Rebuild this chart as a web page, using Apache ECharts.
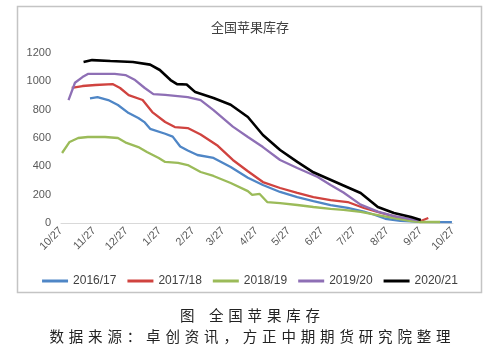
<!DOCTYPE html>
<html>
<head>
<meta charset="utf-8">
<script src="https://cdn.jsdelivr.net/npm/echarts@6/dist/echarts.min.js"></script>
<style>
html,body{margin:0;padding:0;background:#fff;}
#chart{width:500px;height:349px;}
</style>
</head>
<body>
<div id="chart"></div>
<script>
// ---- data (season dates as MM/DD, season runs 10/27 -> 10/27) ----
const seriesNames = ['2016/17', '2017/18', '2018/19', '2019/20', '2020/21'];
const tickLabels = ['10/27','11/27','12/27','1/27','2/27','3/27','4/27','5/27','6/27','7/27','8/27','9/27','10/27'];

const dates16 = ['11/23','11/30','12/10','12/19','12/29','01/07','01/13','01/18','02/01','02/08','02/15','02/22','03/03','03/18','04/03','04/19','05/03','05/19','06/04','06/19','07/05','07/21','08/05','08/14','08/25','09/08','09/27','10/26'];
const vals16 = [880,889,868,833,776,741,710,665,630,610,540,512,480,459,395,320,268,219,183,155,127,106,80,60,30,15,8,6];

const dates17 = ['11/06','11/16','11/28','12/14','12/21','12/29','01/11','01/20','02/01','02/10','02/22','03/06','03/22','04/05','04/19','05/03','05/19','06/04','06/19','07/05','07/21','08/05','08/21','09/05','09/20','09/27','10/04'];
const vals17 = [953,967,974,981,953,903,868,783,713,677,670,625,545,445,365,289,247,212,183,162,148,106,71,42,21,14,35];

const dates18 = ['10/28','11/04','11/12','11/21','12/07','12/19','12/27','01/07','01/15','01/26','02/01','02/13','02/22','03/06','03/18','04/03','04/19','04/23','04/30','05/07','05/19','06/04','06/19','07/05','07/17','08/02','08/18','09/02','09/18','09/27','10/15'];
const vals18 = [494,572,600,607,607,600,565,536,501,459,431,424,409,360,332,282,225,198,205,148,141,127,113,99,92,78,56,35,14,7,7];

const dates19 = ['11/03','11/09','11/16','11/21','12/16','12/26','01/04','01/13','01/21','02/01','02/22','03/06','03/18','04/05','04/19','05/03','05/19','06/04','06/23','07/05','07/17','08/02','08/18','09/02','09/18','09/25'];
const vals19 = [868,990,1030,1052,1052,1044,1009,953,910,905,889,868,797,680,607,536,445,388,325,268,215,130,80,48,28,18];

const dates20 = ['11/17','11/25','12/12','01/02','01/18','01/27','02/06','02/12','02/21','03/01','03/18','04/03','04/19','05/03','05/19','06/04','06/19','07/17','08/02','08/18','09/02','09/18','09/27'];
const vals20 = [1136,1150,1143,1136,1118,1080,1009,980,978,924,882,835,748,621,515,431,358,265,212,113,71,42,21];

const colors = ['#4F86C6', '#D0433F', '#9BBB59', '#8E6FB5', '#000000'];

// ---- helpers ----
function toDay(str, forceNext) {
  const [m, d] = str.split('/').map(Number);
  const first = (m > 10 || (m === 10 && d >= 27)) && !forceNext;
  const year = first ? 2000 : 2001;
  return Math.round((Date.UTC(year, m - 1, d) - Date.UTC(2000, 9, 27)) / 86400000);
}
function pairs(dates, vals) {
  return dates.map((s, i) => [toDay(s), vals[i]]);
}
const tickDays = tickLabels.map((s, i) => toDay(s, i === tickLabels.length - 1));
const labelOf = {};
tickDays.forEach((d, i) => { labelOf[d] = tickLabels[i]; });

const allDates = [dates16, dates17, dates18, dates19, dates20];
const allVals = [vals16, vals17, vals18, vals19, vals20];

const chart = echarts.init(document.getElementById('chart'), null, { renderer: 'canvas' });
const latin = '"Liberation Sans", "DejaVu Sans", sans-serif';
const cjk = '"Noto Sans CJK SC", sans-serif';

function spaced(s) { return s.split('').join('\u2004'); }

chart.setOption({
  animation: false,
  color: colors,
  title: {
    text: '全国苹果库存',
    left: 'center',
    top: 16,
    textStyle: { fontFamily: cjk, fontSize: 13, fontWeight: 'normal', color: '#404040' }
  },
  legend: {
    data: seriesNames,
    left: 'center',
    top: 270,
    icon: 'rect',
    itemWidth: 26,
    itemHeight: 3,
    itemGap: 11,
    textStyle: { fontFamily: latin, fontSize: 12, color: '#404040' }
  },
  grid: { left: 61, right: 47, top: 53, bottom: 126, containLabel: false },
  xAxis: {
    type: 'value',
    min: 0,
    max: tickDays[tickDays.length - 1],
    splitLine: { show: false },
    axisLine: { show: true, lineStyle: { color: '#d9d9d9', width: 1 } },
    axisTick: { show: false },
    axisLabel: {
      customValues: tickDays,
      rotate: 45,
      margin: 6,
      fontFamily: latin,
      fontSize: 11,
      color: '#595959',
      formatter: v => labelOf[v] || ''
    }
  },
  yAxis: {
    type: 'value',
    min: 0,
    max: 1200,
    interval: 200,
    splitLine: { show: false },
    axisLine: { show: false },
    axisTick: { show: false },
    axisLabel: { fontFamily: latin, fontSize: 11, color: '#595959', margin: 10, formatter: v => String(v) }
  },
  series: seriesNames.map((name, i) => ({
    name: name,
    type: 'line',
    data: pairs(allDates[i], allVals[i]),
    showSymbol: false,
    symbol: 'none',
    lineStyle: { width: i === 4 ? 2.6 : 2.3, color: colors[i] },
    itemStyle: { color: colors[i] }
  })),
  graphic: [
    {
      type: 'rect',
      shape: { x: 17.5, y: 6.5, width: 464, height: 286 },
      style: { fill: 'none', stroke: '#c4c4c4', lineWidth: 1.5 },
      silent: true
    },
    {
      type: 'text',
      x: 250, y: 315,
      style: { text: '图\u2003' + spaced('全国苹果库存'), fontFamily: cjk, fontSize: 14.5, fill: '#222', align: 'center', verticalAlign: 'middle' }
    },
    {
      type: 'text',
      x: 250, y: 336,
      style: { text: spaced('数据来源：卓创资讯，方正中期期货研究院整理'), fontFamily: cjk, fontSize: 14.5, fill: '#222', align: 'center', verticalAlign: 'middle' }
    }
  ]
});
</script>
</body>
</html>
